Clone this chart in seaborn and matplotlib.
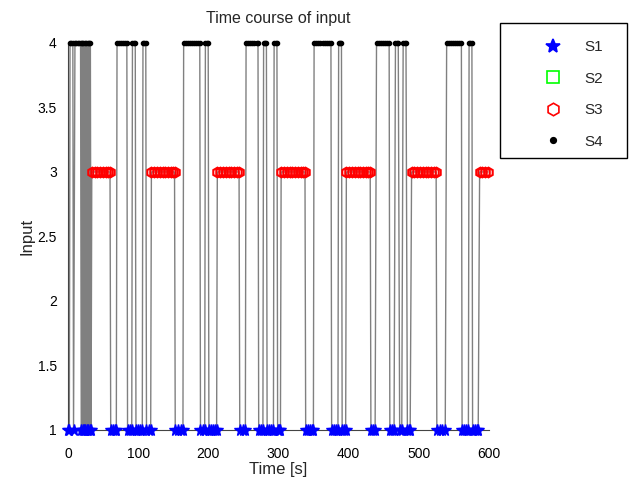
import matplotlib
matplotlib.use("Agg")
import matplotlib.pyplot as plt
from matplotlib.lines import Line2D
from matplotlib.patches import Rectangle
import pandas as pd
import seaborn as sns

# Input level of each consecutive segment and the sample times (s) inside it
seg_levels = [1, 4, 1, 4,
              1, 4, 1, 4, 1, 4, 1, 4, 1, 4, 1, 4, 1, 4, 1,
              3, 1, 4, 1, 4, 1, 4, 1,
              3, 1, 4, 1, 4, 1,
              3, 1, 4, 1, 4, 1, 4, 1,
              3, 1, 4, 1, 4, 1,
              3, 1, 4, 1, 4, 1, 4, 1,
              3, 1, 4, 1, 4, 1,
              3]
seg_times = [[0, 2], [3, 5, 7], [8], [10, 12, 14, 16, 18],
             [19], [20], [21], [22], [23], [24], [25], [26], [27], [28], [29], [30], [31], [32], [33],
             [34, 38, 42, 46, 50, 54, 57, 60],
             [61, 64, 67, 69],
             [70, 73, 76, 79, 82, 84],
             [85, 88, 91],
             [92, 94, 96],
             [97, 100, 103, 106],
             [107, 109, 111],
             [112, 115, 118],
             [119, 123, 127, 131, 135, 139, 143, 147, 150, 152],
             [153, 157, 161, 164],
             [165, 168, 171, 174, 177, 180, 183, 186, 188],
             [189, 192, 195],
             [196, 198, 200],
             [201, 204, 207, 210, 212],
             [213, 217, 221, 225, 229, 233, 237, 241, 244],
             [245, 249, 253],
             [254, 257, 260, 263, 266, 269, 271],
             [272, 275, 278],
             [279, 281, 283],
             [284, 287, 290, 293],
             [294, 296, 298],
             [299, 301, 303],
             [304, 308, 312, 316, 320, 324, 328, 332, 335, 338],
             [339, 342, 345, 348, 350],
             [351, 354, 357, 360, 363, 366, 369, 372, 375],
             [376, 379, 382, 385],
             [386, 388, 390],
             [391, 394, 396],
             [397, 401, 405, 409, 413, 417, 421, 425, 428, 431],
             [432, 435, 438],
             [440, 443, 446, 449, 452, 455, 458],
             [459, 462, 465],
             [467, 469, 471],
             [473, 476],
             [478, 480, 482],
             [484, 486, 488],
             [490, 494, 498, 502, 506, 510, 514, 518, 522, 525],
             [526, 530, 534, 538],
             [540, 543, 546, 549, 552, 555, 558, 561],
             [562, 565, 568, 571],
             [572, 574, 576],
             [577, 580, 583, 585],
             [587, 591, 595, 599]]

series_names = ["S1", "S2", "S3", "S4"]
series_levels = [1, 2, 3, 4]
x_ticks = [0, 100, 200, 300, 400, 500, 600]
y_ticks = [1, 1.5, 2, 2.5, 3, 3.5, 4]
y_tick_labels = ["1", "1.5", "2", "2.5", "3", "3.5", "4"]

rows = []
for lvl, ts in zip(seg_levels, seg_times):
    for t in ts:
        rows.append((t, lvl))
df = pd.DataFrame(rows, columns=["time", "input"])
df["series"] = df["input"].map(dict(zip(series_levels, series_names)))

sns.set_style("white")
plt.rcParams["font.family"] = ["Liberation Sans", "DejaVu Sans"]

W, H = 629, 482
fig = plt.figure(figsize=(W / 100, H / 100), dpi=100)
ax = fig.add_axes([0.108, 0.108, 0.669, 0.803])

sns.lineplot(data=df, x="time", y="input", sort=False, estimator=None,
             color="#808080", linewidth=1.0, ax=ax, zorder=1)

styles = {
    "S1": dict(marker="*", color="#0000ff", mfc="#0000ff", ms=8.5, mew=1.0),
    "S2": dict(marker="s", color="#00ff00", mfc="none", ms=7, mew=1.2),
    "S3": dict(marker="h", color="#ff0000", mfc="none", ms=7, mew=1.5),
    "S4": dict(marker=".", color="black", mfc="black", ms=6, mew=1.0),
}
for name in series_names:
    sub = df[df["series"] == name]
    st = styles[name]
    if len(sub):
        ax.plot(sub["time"], sub["input"], linestyle="none", marker=st["marker"],
                color=st["color"], mfc=st["mfc"], mec=st["color"], ms=st["ms"],
                mew=st["mew"], clip_on=False, zorder=3)

ax.set_xlim(0, 600)
ax.set_ylim(1, 4)
ax.set_xticks(x_ticks)
ax.set_yticks(y_ticks)
ax.set_yticklabels(y_tick_labels)
ax.tick_params(direction="in", length=3, labelsize=10, colors="black")
ax.tick_params(axis="x", pad=12)
ax.tick_params(axis="y", pad=8)
for s in ["top", "right"]:
    ax.spines[s].set_visible(False)
for s in ["left", "bottom"]:
    ax.spines[s].set_color("#444444")
    ax.spines[s].set_linewidth(0.8)
ax.set_xlabel("Time [s]", fontsize=12, labelpad=1)
ax.set_ylabel("Input", fontsize=12, labelpad=2)
ax.set_title("Time course of input", fontsize=11.5, pad=14)

# legend frame
fig.patches.append(Rectangle((500 / W, 1 - 158 / H), 127 / W, 135 / H,
                             transform=fig.transFigure, fill=True, facecolor="white",
                             edgecolor="black", linewidth=1.0, zorder=0))

handles = []
for name in series_names:
    st = styles[name]
    handles.append(Line2D([], [], linestyle="none", marker=st["marker"], color=st["color"],
                          mfc=st["mfc"], mec=st["color"], ms=st["ms"] + 2, mew=1.2))
leg = fig.legend(handles, series_names, loc="upper left",
                 bbox_to_anchor=(533 / W, 1 - 40 / H), fontsize=11,
                 frameon=False, handlelength=2.61, handletextpad=0.78,
                 borderpad=0, labelspacing=1.15, borderaxespad=0)

fig.savefig("out.png", dpi=100)
